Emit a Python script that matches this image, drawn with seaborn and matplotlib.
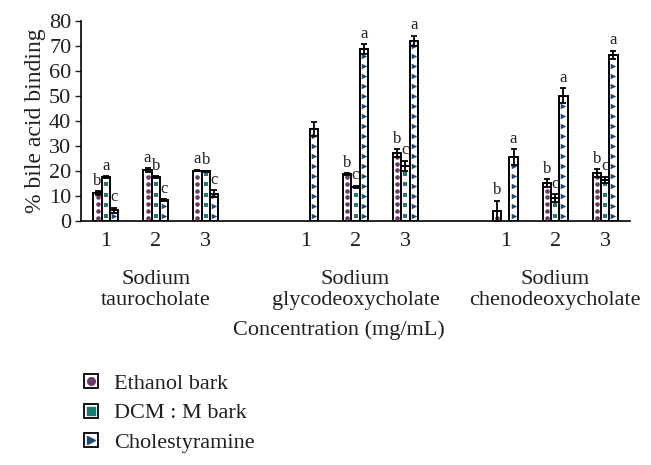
import numpy as np
import pandas as pd
import matplotlib
matplotlib.use("Agg")
import matplotlib.pyplot as plt
import seaborn as sns
from matplotlib.lines import Line2D
from matplotlib.legend_handler import HandlerTuple

# data
groups = ['Sodium\ntaurocholate', 'Sodium\nglycodeoxycholate', 'Sodium\nchenodeoxycholate']
conc = ['1', '2', '3']
series = ['Ethanol bark', 'DCM : M bark', 'Cholestyramine']

ethanol = [11.1, 20.4, 20.2, np.nan, 18.8, 27.1, 4.0, 15.1, 19.1]
dcm = [17.7, 17.7, 19.8, np.nan, 13.7, 22.0, np.nan, 9.1, 16.4]
chol = [4.4, 8.3, 11.0, 36.9, 68.8, 72.0, 25.6, 50.1, 66.4]

ethanol_err = [0.8, 0.6, 0.4, np.nan, 0.4, 1.6, 4.2, 1.6, 1.6]
dcm_err = [0.3, 0.3, 0.3, np.nan, 0.5, 2.1, np.nan, 1.6, 1.3]
chol_err = [1.0, 0.4, 1.3, 2.7, 2.0, 2.1, 3.2, 3.0, 1.7]

ethanol_lab = ['b', 'a', 'a', '', 'b', 'b', 'b', 'b', 'b']
dcm_lab = ['a', 'b', 'b', '', 'c', 'c', '', 'c', 'c']
chol_lab = ['c', 'c', 'c', '', 'a', 'a', 'a', 'a', 'a']

# categories with blank slots between the bile acids
cats = ['T1', 'T2', 'T3', 'G1', 'G2', 'G3', 'C1', 'C2', 'C3']
order = ['T1', 'T2', 'T3', 'gap1', 'G1', 'G2', 'G3', 'gap2', 'C1', 'C2', 'C3']

rows = []
for s, vals, errs, labs in zip(series, [ethanol, dcm, chol],
                               [ethanol_err, dcm_err, chol_err],
                               [ethanol_lab, dcm_lab, chol_lab]):
    for c, v, e, l in zip(cats, vals, errs, labs):
        rows.append({'cat': c, 'series': s, 'value': v, 'err': e, 'lab': l})
df = pd.DataFrame(rows)
info = {(r.cat, r.series): r for r in df.itertuples()}
df = df.dropna(subset=['value'])

purple = '#6b3a6b'
teal = '#1b7b73'
navy = '#1f4a78'
pattern = {'Ethanol bark': ('o', purple, 11, 2.7),
           'DCM : M bark': ('s', teal, 9, 4.2),
           'Cholestyramine': ('>', navy, 16, 4.0)}
txt = '#231f20'
fs = 16

sns.set_style("ticks")
plt.rcParams['font.family'] = ['Liberation Serif', 'DejaVu Serif']
plt.rcParams['text.color'] = txt
plt.rcParams['axes.labelcolor'] = txt
plt.rcParams['xtick.color'] = txt
plt.rcParams['ytick.color'] = txt

fig = plt.figure(figsize=(6.51, 4.65), dpi=100)
ax = fig.add_axes([81 / 651, 1 - 221 / 465, 549 / 651, 200 / 465])

sns.barplot(data=df, x='cat', y='value', hue='series', order=order, hue_order=series,
            palette={s: 'white' for s in series}, edgecolor='black', linewidth=1.4,
            width=0.5, errorbar=None, legend=False, ax=ax, zorder=2)

bar_conts = list(ax.containers)
for i, cont in enumerate(bar_conts):
    s = series[i]
    mk, col, sz, step = pattern[s]
    for bar in cont:
        h = bar.get_height()
        if not np.isfinite(h) or h <= 0:
            continue
        xc = bar.get_x() + bar.get_width() / 2
        r = info[(order[int(round(xc))], s)]
        ys = np.arange(step / 2, h - 0.8, step)
        ax.scatter(np.full(len(ys), xc), ys, marker=mk, color=col, s=sz,
                   linewidths=0, zorder=3)
        ax.errorbar(xc, h, yerr=r.err, color='black', capsize=2.5, elinewidth=1.3,
                    capthick=1.3, zorder=4)
        if r.lab:
            ax.text(xc, h + r.err + 1.0, r.lab, ha='center', va='bottom', fontsize=12)

ax.set_xlim(-0.5, 10.5)
ax.set_ylim(0, 80)
ax.set_yticks(range(0, 81, 10))
ax.set_xticks([order.index(c) for c in cats])
ax.set_xticklabels(conc * 3)
ax.tick_params(axis='x', length=0, pad=8, labelsize=fs)
ax.tick_params(axis='y', length=4, width=1, direction='out', labelsize=fs, pad=3)
ax.set_xlabel('')
ax.set_ylabel('% bile acid binding', fontsize=17, labelpad=2)
for sp in ['top', 'right']:
    ax.spines[sp].set_visible(False)
for sp in ['left', 'bottom']:
    ax.spines[sp].set_linewidth(1.2)
    ax.spines[sp].set_color('black')

for g, center in zip(groups, [1, 5, 9]):
    ax.text(center, -0.345, g, transform=ax.get_xaxis_transform(), ha='center',
            va='center', fontsize=fs, linespacing=1.2)

fig.text(339 / 651, 1 - 330 / 465, 'Concentration (mg/mL)', ha='center', va='center',
         fontsize=fs)

handles = []
for s in series:
    mk, col, sz, step = pattern[s]
    box = Line2D([], [], marker='s', ms=10, mfc='white', mec='black', mew=1.3, ls='none')
    sym = Line2D([], [], marker=mk, ms=5.5, color=col, ls='none')
    handles.append((box, sym))
fig.legend(handles, series, handler_map={tuple: HandlerTuple(ndivide=1)},
           loc='center left', bbox_to_anchor=(81 / 651, 1 - 413 / 465), frameon=False,
           fontsize=fs, handlelength=0.9, handletextpad=0.6, labelspacing=0.4,
           borderpad=0, borderaxespad=0)

fig.savefig('out.png', dpi=100)
